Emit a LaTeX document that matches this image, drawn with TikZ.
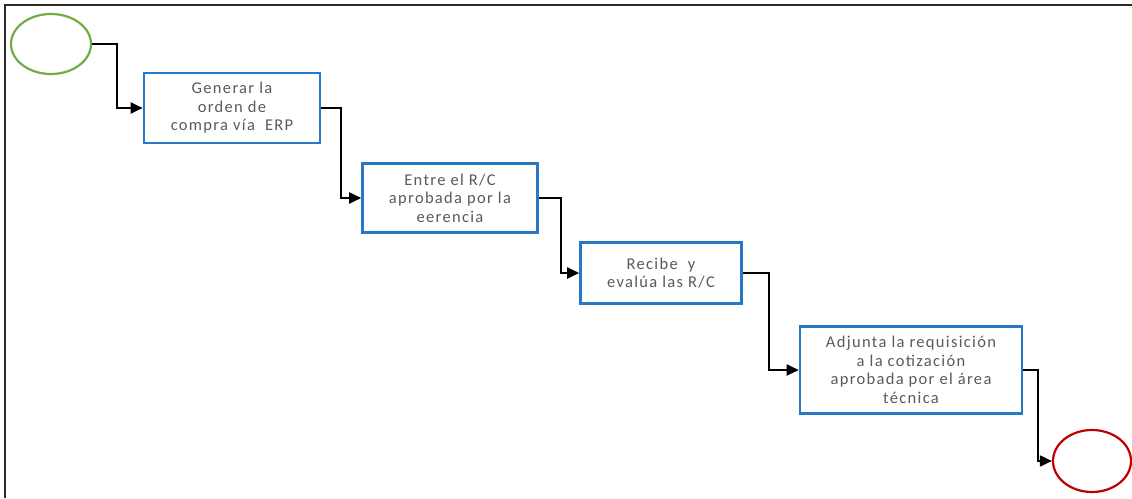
\documentclass[tikz,border=0pt]{standalone}
\usepackage{fontspec}
\setmainfont{Carlito}[LetterSpace=8]
\usetikzlibrary{arrows.meta,shapes.geometric}
\definecolor{boxblue}{HTML}{2878C8}
\definecolor{startgreen}{HTML}{70AD47}
\definecolor{endred}{HTML}{C00000}
\definecolor{txtgray}{HTML}{5A5A5A}
\definecolor{framegray}{HTML}{2A2A2A}
\tikzset{
  procbox/.style={draw=boxblue, line width=2.6pt, fill=white, align=center,
    text=txtgray, font=\fontsize{16.5}{18.5}\selectfont, inner sep=0pt},
  event/.style={ellipse, draw, line width=2.2pt, minimum width=80pt, minimum height=60pt, inner sep=0pt},
  conn/.style={draw=black, line width=1.9pt, -{Triangle[length=12pt,width=11pt]}},
}
\begin{document}
\begin{tikzpicture}[x=1pt,y=-1pt]
  \useasboundingbox (0,0) rectangle (1132,498);
  % outer frame: only top and left edges
  \draw[framegray, line width=2.2pt] (5,498) -- (5,5) -- (1132,5);

  % start and end events
  \node[event, draw=startgreen] (start) at (51,44) {};
  \node[event, draw=endred, minimum width=78pt, minimum height=62pt] (stop) at (1092,461) {};

  % process steps
  \node[procbox, minimum width=176pt, minimum height=70pt] (b1) at (232,108)
    {Generar la\\orden de\\compra vía\ \ ERP};
  \node[procbox, minimum width=175pt, minimum height=69pt] (b2) at (450,198)
    {Entre el R/C\\aprobada por la\\eerencia};
  \node[procbox, minimum width=161pt, minimum height=61pt] (b3) at (661,273)
    {Recibe\ \ y\\evalúa las R/C};
  \node[procbox, minimum width=222pt, minimum height=87pt] (b4) at (911,370)
    {Adjunta la requisición\\a la cotización\\aprobada por el área\\técnica};

  % orthogonal connectors
  \draw[conn] (start.east) -- ++(25,0) |- (b1.west);
  \draw[conn] (b1.east) -- ++(20,0) |- (b2.west);
  \draw[conn] (b2.east) -- ++(22,0) |- (b3.west);
  \draw[conn] (b3.east) -- ++(26,0) |- (b4.west);
  \draw[conn] (b4.east) -- ++(15,0) |- (stop.west);
\end{tikzpicture}
\end{document}
